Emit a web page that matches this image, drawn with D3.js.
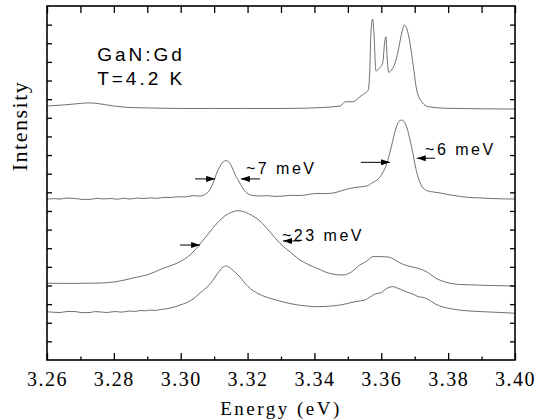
<!DOCTYPE html>
<html>
<head>
<meta charset="utf-8">
<script src="https://cdn.jsdelivr.net/npm/d3@7"></script>
<style>
    body { margin: 0; background: #fff; }
    .spectrum { fill: none; stroke: #707070; stroke-width: 1; }
    .axis line { stroke: #000; stroke-width: 1.3; }
    .axis path { display: none; }
    .axis text { font-family: "Liberation Serif", "Times New Roman", serif !important; font-size: 20px !important; letter-spacing: 1.5px; fill: #000; }
    .note { font-family: "Liberation Sans", Arial, sans-serif; fill: #000; }
    .title { font-family: "Liberation Serif", "Times New Roman", serif; fill: #000; }
</style>
</head>
<body>
<div id="chart"></div>
<script>
// x tick labels (eV)
const xTickLabels = ["3.26", "3.28", "3.30", "3.32", "3.34", "3.36", "3.38", "3.40"];
const xMinorTicks = [3.27, 3.29, 3.31, 3.33, 3.35, 3.37, 3.39];
const yTicks = [1, 2, 3, 4, 5, 6, 7, 8, 9, 10, 11, 12, 13, 14, 15, 16, 17, 18];

// top spectrum (GaN:Gd, sharp lines)
const specAEnergy = [3.2600, 3.2650, 3.2700, 3.2725, 3.2750, 3.2800, 3.2850, 3.2900, 3.3000, 3.3100,
    3.3200, 3.3300, 3.3357, 3.3420, 3.3477, 3.3492, 3.3515, 3.3536, 3.3551, 3.3561,
    3.3566, 3.3569, 3.3574, 3.3578, 3.3584, 3.3594, 3.3604, 3.3611, 3.3614, 3.3618,
    3.3622, 3.3631, 3.3641, 3.3651, 3.3661, 3.3669, 3.3676, 3.3686, 3.3696, 3.3706,
    3.3721, 3.3741, 3.3796, 3.4000];
const specAIntensity = [13.63, 13.69, 13.77, 13.80, 13.77, 13.63, 13.55, 13.53, 13.50, 13.50,
    13.50, 13.50, 13.51, 13.55, 13.63, 13.86, 13.86, 14.13, 14.32, 14.49,
    15.74, 17.55, 18.30, 17.55, 15.51, 15.66, 15.93, 17.18, 17.35, 16.10,
    15.44, 15.57, 15.93, 16.64, 17.54, 17.98, 17.80, 17.00, 15.74, 14.49,
    13.86, 13.60, 13.51, 13.47];

// second spectrum (~7 meV and ~6 meV lines)
const specBEnergy = [3.2600, 3.2620, 3.2639, 3.2660, 3.2684, 3.2705, 3.2729, 3.2750, 3.2770, 3.2788,
    3.2810, 3.2830, 3.2848, 3.2870, 3.2890, 3.2908, 3.2930, 3.2950, 3.2968, 3.2990,
    3.3013, 3.3035, 3.3058, 3.3079, 3.3097, 3.3109, 3.3118, 3.3127, 3.3135, 3.3144,
    3.3153, 3.3162, 3.3177, 3.3189, 3.3198, 3.3216, 3.3237, 3.3260, 3.3285, 3.3306,
    3.3330, 3.3357, 3.3380, 3.3408, 3.3430, 3.3456, 3.3480, 3.3506, 3.3536, 3.3557,
    3.3572, 3.3587, 3.3602, 3.3617, 3.3626, 3.3635, 3.3644, 3.3653, 3.3661, 3.3668,
    3.3677, 3.3686, 3.3695, 3.3701, 3.3710, 3.3725, 3.3740, 3.3755, 3.3780, 3.3806,
    3.3835, 3.3865, 3.3895, 3.3925, 3.3960, 3.4000];
const specBIntensity = [8.63, 8.66, 8.64, 8.69, 8.67, 8.62, 8.62, 8.68, 8.64, 8.67,
    8.63, 8.68, 8.64, 8.69, 8.67, 8.70, 8.68, 8.73, 8.72, 8.76,
    8.75, 8.82, 8.80, 8.96, 9.50, 10.09, 10.41, 10.63, 10.70, 10.63,
    10.36, 9.98, 9.50, 9.13, 8.96, 8.83, 8.80, 8.82, 8.78, 8.80,
    8.84, 8.83, 8.88, 8.94, 8.93, 8.96, 9.08, 9.21, 9.29, 9.34,
    9.50, 9.66, 9.98, 10.57, 11.16, 11.81, 12.45, 12.80, 12.88, 12.80,
    12.45, 11.81, 11.06, 10.47, 9.82, 9.23, 9.07, 9.02, 8.95, 8.86,
    8.78, 8.72, 8.70, 8.67, 8.65, 8.64];

// third spectrum (broad ~23 meV band)
const specCEnergy = [3.2600, 3.2669, 3.2759, 3.2809, 3.2857, 3.2908, 3.2947, 3.2983, 3.3007, 3.3034,
    3.3058, 3.3082, 3.3109, 3.3132, 3.3153, 3.3171, 3.3192, 3.3213, 3.3237, 3.3267,
    3.3297, 3.3327, 3.3357, 3.3381, 3.3408, 3.3447, 3.3485, 3.3506, 3.3536, 3.3557,
    3.3575, 3.3596, 3.3620, 3.3641, 3.3656, 3.3686, 3.3716, 3.3737, 3.3767, 3.3791,
    3.3835, 3.3871, 3.3925, 3.4000];
const specCIntensity = [4.12, 4.11, 4.13, 4.21, 4.40, 4.62, 4.92, 5.15, 5.37, 5.74,
    6.23, 6.76, 7.35, 7.73, 7.94, 8.01, 7.94, 7.76, 7.46, 6.87,
    6.26, 5.80, 5.37, 5.13, 4.92, 4.64, 4.56, 4.67, 5.10, 5.31,
    5.55, 5.55, 5.53, 5.37, 5.21, 5.02, 4.89, 4.72, 4.35, 4.19,
    4.05, 4.03, 4.00, 3.97];

// bottom spectrum
const specDEnergy = [3.2600, 3.2620, 3.2639, 3.2660, 3.2684, 3.2705, 3.2729, 3.2745, 3.2759, 3.2780,
    3.2803, 3.2825, 3.2848, 3.2865, 3.2878, 3.2893, 3.2908, 3.2925, 3.2938, 3.2955,
    3.2968, 3.2983, 3.2998, 3.3019, 3.3037, 3.3058, 3.3079, 3.3097, 3.3109, 3.3118,
    3.3127, 3.3135, 3.3144, 3.3153, 3.3165, 3.3177, 3.3189, 3.3201, 3.3216, 3.3231,
    3.3252, 3.3276, 3.3303, 3.3327, 3.3351, 3.3378, 3.3402, 3.3426, 3.3453, 3.3477,
    3.3500, 3.3524, 3.3551, 3.3566, 3.3581, 3.3599, 3.3614, 3.3626, 3.3635, 3.3647,
    3.3662, 3.3680, 3.3695, 3.3710, 3.3725, 3.3740, 3.3761, 3.3782, 3.3806, 3.3850,
    3.3895, 3.3955, 3.4000];
const specDIntensity = [2.59, 2.56, 2.55, 2.60, 2.60, 2.54, 2.55, 2.60, 2.58, 2.55,
    2.60, 2.57, 2.63, 2.60, 2.66, 2.64, 2.68, 2.66, 2.71, 2.74,
    2.79, 2.85, 2.95, 3.09, 3.27, 3.60, 3.92, 4.29, 4.62, 4.83,
    4.99, 5.05, 4.99, 4.86, 4.67, 4.46, 4.19, 3.95, 3.73, 3.57,
    3.40, 3.27, 3.13, 3.03, 2.95, 2.90, 2.86, 2.87, 2.90, 2.95,
    3.04, 3.14, 3.22, 3.38, 3.54, 3.61, 3.81, 3.92, 3.94, 3.87,
    3.76, 3.62, 3.54, 3.40, 3.36, 3.26, 3.01, 2.86, 2.76, 2.65,
    2.60, 2.55, 2.51];

// FWHM markers: [from energy, to energy, intensity level]
const fwhmArrows = [
    [3.3043, 3.3103, 9.72], [3.3237, 3.3180, 9.72],
    [3.3539, 3.3626, 10.61], [3.3761, 3.3706, 10.83],
    [3.2998, 3.3058, 6.17], [3.3357, 3.3306, 6.39]
];
const fwhmLabels = ["~7 meV", "~6 meV", "~23 meV"];
const fwhmLabelAt = [[3.3195, 9.98], [3.3731, 10.98], [3.3303, 6.39]];
const sampleLines = ["GaN:Gd", "T=4.2 K"];
const sampleAt = [[3.2750, 16.05], [3.2750, 14.76]];

const w = 535, h = 419,
    margin = { left: 47, right: 20, top: 6, bottom: 59 };

const xScale = d3.scaleLinear()
    .domain([3.26, 3.40])
    .range([margin.left, w - margin.right]);

const yScale = d3.scaleLinear()
    .domain([0, 19])
    .range([h - margin.bottom, margin.top]);

const svg = d3.select("#chart")
    .append("svg")
    .attr("width", w)
    .attr("height", h);

svg.append("defs").append("marker")
    .attr("id", "head")
    .attr("markerUnits", "userSpaceOnUse")
    .attr("viewBox", "0 0 9 6")
    .attr("refX", 9)
    .attr("refY", 3)
    .attr("markerWidth", 9)
    .attr("markerHeight", 6)
    .attr("orient", "auto")
    .append("path")
    .attr("d", "M0,0L9,3L0,6Z")
    .attr("fill", "#000");

const line = d3.line()
    .x(d => xScale(d[0]))
    .y(d => yScale(d[1]))
    .curve(d3.curveMonotoneX);

const spectra = [
    d3.zip(specAEnergy, specAIntensity),
    d3.zip(specBEnergy, specBIntensity),
    d3.zip(specCEnergy, specCIntensity),
    d3.zip(specDEnergy, specDIntensity)
];

svg.selectAll("path.spectrum")
    .data(spectra)
    .enter()
    .append("path")
    .attr("class", "spectrum")
    .attr("d", line);

// bottom axis with labels + minor ticks
const xAxisG = svg.append("g")
    .attr("class", "axis")
    .attr("transform", "translate(0," + yScale(0) + ")")
    .call(d3.axisBottom(xScale)
        .tickValues(xTickLabels.map(Number))
        .tickFormat((d, i) => xTickLabels[i])
        .tickSizeInner(-7)
        .tickSizeOuter(0)
        .tickPadding(12));

xAxisG.attr("font-family", null).attr("font-size", null);
xAxisG.selectAll("text")
    .style("font-family", "'Liberation Serif', 'Times New Roman', serif")
    .style("font-size", "20px");

svg.append("g")
    .attr("class", "axis")
    .attr("transform", "translate(0," + yScale(0) + ")")
    .call(d3.axisBottom(xScale)
        .tickValues(xMinorTicks)
        .tickFormat("")
        .tickSizeInner(-3.5)
        .tickSizeOuter(0));

// top axis, ticks only
svg.append("g")
    .attr("class", "axis")
    .attr("transform", "translate(0," + yScale(19) + ")")
    .call(d3.axisTop(xScale)
        .tickValues(xTickLabels.map(Number).concat(xMinorTicks))
        .tickFormat("")
        .tickSizeInner(-7)
        .tickSizeOuter(0));

svg.append("g")
    .attr("class", "axis")
    .attr("transform", "translate(" + xScale(3.26) + ",0)")
    .call(d3.axisLeft(yScale)
        .tickValues(yTicks)
        .tickFormat("")
        .tickSizeInner(-5)
        .tickSizeOuter(0));

svg.append("g")
    .attr("class", "axis")
    .attr("transform", "translate(" + xScale(3.40) + ",0)")
    .call(d3.axisRight(yScale)
        .tickValues(yTicks)
        .tickFormat("")
        .tickSizeInner(-5)
        .tickSizeOuter(0));

// frame
svg.append("rect")
    .attr("x", xScale(3.26))
    .attr("y", yScale(19))
    .attr("width", xScale(3.40) - xScale(3.26))
    .attr("height", yScale(0) - yScale(19))
    .attr("fill", "none")
    .attr("stroke", "#000")
    .attr("stroke-width", 1.6);

// FWHM arrows
svg.selectAll("line.fwhm")
    .data(fwhmArrows)
    .enter()
    .append("line")
    .attr("class", "fwhm")
    .attr("x1", d => xScale(d[0]))
    .attr("x2", d => xScale(d[1]))
    .attr("y1", d => yScale(d[2]))
    .attr("y2", d => yScale(d[2]))
    .attr("stroke", "#000")
    .attr("stroke-width", 1)
    .attr("marker-end", "url(#head)");

svg.selectAll("text.fwhm")
    .data(fwhmLabels)
    .enter()
    .append("text")
    .attr("class", "note")
    .attr("x", (d, i) => xScale(fwhmLabelAt[i][0]))
    .attr("y", (d, i) => yScale(fwhmLabelAt[i][1]))
    .attr("font-size", 16)
    .attr("letter-spacing", "2.5px")
    .text(d => d);

svg.selectAll("text.sample")
    .data(sampleLines)
    .enter()
    .append("text")
    .attr("class", "note")
    .attr("x", (d, i) => xScale(sampleAt[i][0]))
    .attr("y", (d, i) => yScale(sampleAt[i][1]))
    .attr("font-size", 19)
    .attr("letter-spacing", "3px")
    .text(d => d);

// axis titles
svg.append("text")
    .attr("class", "title")
    .attr("x", (xScale(3.26) + xScale(3.40)) / 2)
    .attr("y", 415)
    .attr("text-anchor", "middle")
    .attr("font-size", 19)
    .attr("letter-spacing", "2.5px")
    .text("Energy (eV)");

svg.append("text")
    .attr("class", "title")
    .attr("transform", "translate(27,126) rotate(-90)")
    .attr("text-anchor", "middle")
    .attr("font-size", 22)
    .attr("letter-spacing", "1.5px")
    .text("Intensity");
</script>
</body>
</html>
